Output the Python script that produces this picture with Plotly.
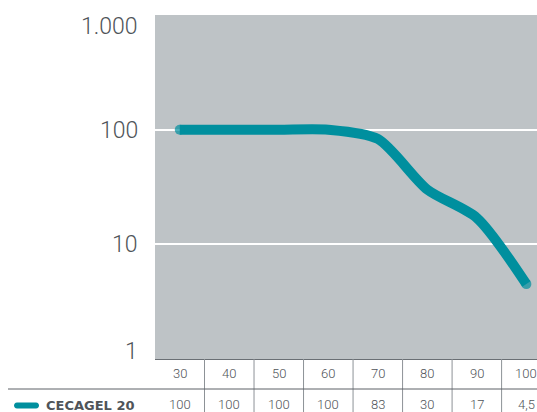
import plotly.graph_objects as go
import math

# ---- data ----
temperatures = [30, 40, 50, 60, 70, 80, 90, 100]
cecagel_20 = [100, 100, 100, 100, 83, 30, 17, 4.5]
series_name = "CECAGEL 20"
y_tick_values = [1, 10, 100, 1000]
y_tick_labels = ["1", "10", "100", "1.000"]
y_label_shift = [8, 0, -1, -11]  # px nudges of the y labels

# ---- style ----
TEAL = "#008f9e"
PLOT_BG = "#bec3c6"
TEXT = "#4f5459"
W, H = 537, 412
L, R, T, B = 155, 0, 15, 53
plot_w = W - L - R
plot_h = H - T - B


def px_x(p):
    return (p - L) / plot_w


def px_y(p):
    return (H - B - p) / plot_h


def fmt(v):
    return str(int(v)) if float(v).is_integer() else str(v).replace(".", ",")


n = len(temperatures)
marker_sizes = [10] + [0] * (n - 2) + [10]

fig = go.Figure()
fig.add_trace(go.Scatter(
    x=temperatures, y=cecagel_20, mode="lines+markers",
    line=dict(color=TEAL, width=10, shape="spline", smoothing=0.75),
    marker=dict(color=TEAL, size=marker_sizes, line=dict(width=0)),
    showlegend=False, hoverinfo="x+y", name=series_name,
))

step = temperatures[1] - temperatures[0]
x_range = [temperatures[0] - step / 2, 102.15]

annotations = []
# y-axis labels
for v, lab, sh in zip(y_tick_values, y_tick_labels, y_label_shift):
    annotations.append(dict(
        x=0, xref="paper", y=math.log10(v), yref="y", text=lab,
        xanchor="right", yanchor="middle", xshift=-15, yshift=sh,
        showarrow=False, font=dict(family="Roboto", size=23, color=TEXT, weight=300),
    ))
# table rows
for t, v in zip(temperatures, cecagel_20):
    annotations.append(dict(
        x=t, xref="x", y=px_y(373), yref="paper", text=str(t),
        xanchor="center", yanchor="middle", showarrow=False,
        font=dict(family="Roboto", size=13, color=TEXT, weight=300),
    ))
    annotations.append(dict(
        x=t, xref="x", y=px_y(404), yref="paper", text=fmt(v),
        xanchor="center", yanchor="middle", showarrow=False,
        font=dict(family="Roboto", size=13, color=TEXT, weight=300),
    ))
annotations.append(dict(
    x=px_x(44), xref="paper", y=px_y(405), yref="paper", text="<b>" + series_name + "</b>",
    xanchor="left", yanchor="middle", showarrow=False,
    font=dict(family="DejaVu Sans", size=13, color=TEXT),
))

shapes = []
for t in temperatures[:-1]:
    shapes.append(dict(
        type="line", xref="x", x0=t + step / 2, x1=t + step / 2,
        yref="paper", y0=0, y1=px_y(H), line=dict(color="#8d9297", width=1),
    ))
shapes.append(dict(
    type="line", xref="paper", x0=px_x(8), x1=1, yref="paper",
    y0=px_y(389), y1=px_y(389), line=dict(color="#5d6166", width=1),
))
shapes.append(dict(
    type="path", xref="paper", yref="paper", xsizemode="pixel", ysizemode="pixel",
    xanchor=px_x(26.5), yanchor=px_y(405.5),
    path="M -9.5,-3 L 9.5,-3 C 13.5,-3 13.5,3 9.5,3 L -9.5,3 C -13.5,3 -13.5,-3 -9.5,-3 Z",
    fillcolor=TEAL, line=dict(width=0),
))

fig.update_layout(
    width=W, height=H,
    margin=dict(l=L, r=R, t=T, b=B, pad=0),
    paper_bgcolor="white", plot_bgcolor=PLOT_BG,
    xaxis=dict(range=x_range, showgrid=False, zeroline=False, showticklabels=False,
               ticks="", showline=True, linecolor="#6a6f74", linewidth=1, fixedrange=True),
    yaxis=dict(type="log", range=[0, 3], tickvals=[10, 100], showticklabels=False,
               ticks="", showgrid=True, gridcolor="white", gridwidth=2, zeroline=False,
               showline=False, fixedrange=True),
    annotations=annotations, shapes=shapes, showlegend=False,
)

fig.write_html(
    "out.html",
    config={"displayModeBar": False},
    post_script="document.body.style.margin='0';document.body.style.overflow='hidden';",
)
